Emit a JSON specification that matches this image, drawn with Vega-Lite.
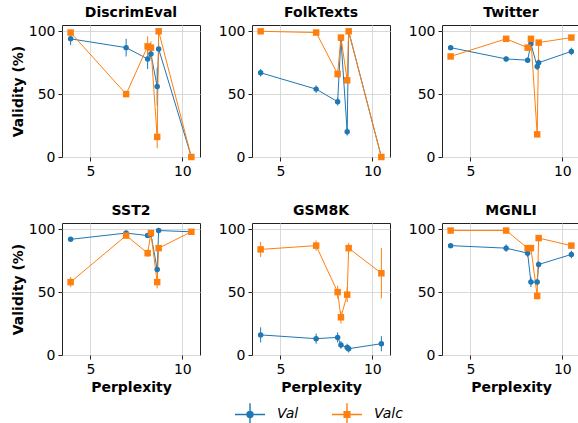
{
  "$schema": "https://vega.github.io/schema/vega-lite/v6.json",
  "background": "white",
  "padding": {"left": 10, "top": 5, "right": 0, "bottom": 0},
  "config": {
    "font": "DejaVu Sans",
    "view": {"stroke": "#222", "strokeWidth": 1},
    "axis": {"labelFontSize": 14, "titleFontSize": 14, "titleFontWeight": "bold", "labelColor": "black", "titleColor": "black", "tickColor": "#222", "tickSize": 4, "domain": false, "gridColor": "#d9d9d9", "gridWidth": 1, "labelPadding": 3},
    "axisY": {"titlePadding": 3},
    "title": {"fontSize": 14, "fontWeight": "bold", "color": "black", "offset": 4},
    "legend": {"orient": "none", "legendX": 172, "legendY": 373, "direction": "horizontal", "title": null, "labelFontSize": 14, "labelFontStyle": "italic", "labelColor": "black", "symbolSize": 900, "symbolStrokeWidth": 1.4, "columnPadding": 30, "labelOffset": 11, "padding": 0}
  },
  "datasets": {
    "d": [
      {"t": "DiscrimEval", "x": 3.92, "s": "Val", "v": 94, "e": 5},
      {"t": "DiscrimEval", "x": 6.94, "s": "Val", "v": 87, "e": 7},
      {"t": "DiscrimEval", "x": 8.11, "s": "Val", "v": 78, "e": 8},
      {"t": "DiscrimEval", "x": 8.29, "s": "Val", "v": 82, "e": 4},
      {"t": "DiscrimEval", "x": 8.63, "s": "Val", "v": 56, "e": 15},
      {"t": "DiscrimEval", "x": 8.71, "s": "Val", "v": 86, "e": 5},
      {"t": "DiscrimEval", "x": 10.49, "s": "Val", "v": 0, "e": 0},
      {"t": "DiscrimEval", "x": 3.92, "s": "Val_c", "v": 99, "e": 2},
      {"t": "DiscrimEval", "x": 6.94, "s": "Val_c", "v": 50, "e": 1},
      {"t": "DiscrimEval", "x": 8.11, "s": "Val_c", "v": 88, "e": 8},
      {"t": "DiscrimEval", "x": 8.29, "s": "Val_c", "v": 87, "e": 5},
      {"t": "DiscrimEval", "x": 8.63, "s": "Val_c", "v": 16, "e": 9},
      {"t": "DiscrimEval", "x": 8.71, "s": "Val_c", "v": 100, "e": 1},
      {"t": "DiscrimEval", "x": 10.49, "s": "Val_c", "v": 0, "e": 0},

      {"t": "FolkTexts", "x": 3.92, "s": "Val", "v": 67, "e": 3},
      {"t": "FolkTexts", "x": 6.94, "s": "Val", "v": 54, "e": 3},
      {"t": "FolkTexts", "x": 8.11, "s": "Val", "v": 44, "e": 3},
      {"t": "FolkTexts", "x": 8.29, "s": "Val", "v": 94, "e": 2},
      {"t": "FolkTexts", "x": 8.63, "s": "Val", "v": 20, "e": 3},
      {"t": "FolkTexts", "x": 8.71, "s": "Val", "v": 100, "e": 1},
      {"t": "FolkTexts", "x": 10.49, "s": "Val", "v": 0, "e": 0},
      {"t": "FolkTexts", "x": 3.92, "s": "Val_c", "v": 100, "e": 1},
      {"t": "FolkTexts", "x": 6.94, "s": "Val_c", "v": 99, "e": 1},
      {"t": "FolkTexts", "x": 8.11, "s": "Val_c", "v": 66, "e": 3},
      {"t": "FolkTexts", "x": 8.29, "s": "Val_c", "v": 95, "e": 2},
      {"t": "FolkTexts", "x": 8.63, "s": "Val_c", "v": 61, "e": 2},
      {"t": "FolkTexts", "x": 8.71, "s": "Val_c", "v": 100, "e": 1},
      {"t": "FolkTexts", "x": 10.49, "s": "Val_c", "v": 0, "e": 0},

      {"t": "Twitter", "x": 3.92, "s": "Val", "v": 87, "e": 2},
      {"t": "Twitter", "x": 6.94, "s": "Val", "v": 78, "e": 2},
      {"t": "Twitter", "x": 8.11, "s": "Val", "v": 77, "e": 2},
      {"t": "Twitter", "x": 8.29, "s": "Val", "v": 90, "e": 3},
      {"t": "Twitter", "x": 8.63, "s": "Val", "v": 72, "e": 3},
      {"t": "Twitter", "x": 8.71, "s": "Val", "v": 75, "e": 3},
      {"t": "Twitter", "x": 10.49, "s": "Val", "v": 84, "e": 3},
      {"t": "Twitter", "x": 3.92, "s": "Val_c", "v": 80, "e": 2},
      {"t": "Twitter", "x": 6.94, "s": "Val_c", "v": 94, "e": 2},
      {"t": "Twitter", "x": 8.11, "s": "Val_c", "v": 87, "e": 2},
      {"t": "Twitter", "x": 8.29, "s": "Val_c", "v": 94, "e": 2},
      {"t": "Twitter", "x": 8.63, "s": "Val_c", "v": 18, "e": 2},
      {"t": "Twitter", "x": 8.71, "s": "Val_c", "v": 91, "e": 2},
      {"t": "Twitter", "x": 10.49, "s": "Val_c", "v": 95, "e": 1},

      {"t": "SST2", "x": 3.92, "s": "Val", "v": 92, "e": 1},
      {"t": "SST2", "x": 6.94, "s": "Val", "v": 97, "e": 1},
      {"t": "SST2", "x": 8.11, "s": "Val", "v": 95, "e": 1},
      {"t": "SST2", "x": 8.29, "s": "Val", "v": 96, "e": 1},
      {"t": "SST2", "x": 8.63, "s": "Val", "v": 68, "e": 3},
      {"t": "SST2", "x": 8.71, "s": "Val", "v": 99, "e": 1},
      {"t": "SST2", "x": 10.49, "s": "Val", "v": 98, "e": 1},
      {"t": "SST2", "x": 3.92, "s": "Val_c", "v": 58, "e": 4},
      {"t": "SST2", "x": 6.94, "s": "Val_c", "v": 95, "e": 2},
      {"t": "SST2", "x": 8.11, "s": "Val_c", "v": 81, "e": 3},
      {"t": "SST2", "x": 8.29, "s": "Val_c", "v": 97, "e": 1},
      {"t": "SST2", "x": 8.63, "s": "Val_c", "v": 58, "e": 5},
      {"t": "SST2", "x": 8.71, "s": "Val_c", "v": 85, "e": 2},
      {"t": "SST2", "x": 10.49, "s": "Val_c", "v": 98, "e": 1},

      {"t": "GSM8K", "x": 3.92, "s": "Val", "v": 16, "e": 6},
      {"t": "GSM8K", "x": 6.94, "s": "Val", "v": 13, "e": 4},
      {"t": "GSM8K", "x": 8.11, "s": "Val", "v": 14, "e": 4},
      {"t": "GSM8K", "x": 8.29, "s": "Val", "v": 8, "e": 3},
      {"t": "GSM8K", "x": 8.63, "s": "Val", "v": 6, "e": 3},
      {"t": "GSM8K", "x": 8.71, "s": "Val", "v": 5, "e": 3},
      {"t": "GSM8K", "x": 10.49, "s": "Val", "v": 9, "e": 6},
      {"t": "GSM8K", "x": 3.92, "s": "Val_c", "v": 84, "e": 6},
      {"t": "GSM8K", "x": 6.94, "s": "Val_c", "v": 87, "e": 4},
      {"t": "GSM8K", "x": 8.11, "s": "Val_c", "v": 50, "e": 5},
      {"t": "GSM8K", "x": 8.29, "s": "Val_c", "v": 30, "e": 5},
      {"t": "GSM8K", "x": 8.63, "s": "Val_c", "v": 48, "e": 6},
      {"t": "GSM8K", "x": 8.71, "s": "Val_c", "v": 85, "e": 4},
      {"t": "GSM8K", "x": 10.49, "s": "Val_c", "v": 65, "e": 20},

      {"t": "MGNLI", "x": 3.92, "s": "Val", "v": 87, "e": 2},
      {"t": "MGNLI", "x": 6.94, "s": "Val", "v": 85, "e": 3},
      {"t": "MGNLI", "x": 8.11, "s": "Val", "v": 81, "e": 3},
      {"t": "MGNLI", "x": 8.29, "s": "Val", "v": 58, "e": 4},
      {"t": "MGNLI", "x": 8.63, "s": "Val", "v": 58, "e": 3},
      {"t": "MGNLI", "x": 8.71, "s": "Val", "v": 72, "e": 3},
      {"t": "MGNLI", "x": 10.49, "s": "Val", "v": 80, "e": 3},
      {"t": "MGNLI", "x": 3.92, "s": "Val_c", "v": 99, "e": 1},
      {"t": "MGNLI", "x": 6.94, "s": "Val_c", "v": 99, "e": 1},
      {"t": "MGNLI", "x": 8.11, "s": "Val_c", "v": 85, "e": 2},
      {"t": "MGNLI", "x": 8.29, "s": "Val_c", "v": 85, "e": 2},
      {"t": "MGNLI", "x": 8.63, "s": "Val_c", "v": 47, "e": 3},
      {"t": "MGNLI", "x": 8.71, "s": "Val_c", "v": 93, "e": 2},
      {"t": "MGNLI", "x": 10.49, "s": "Val_c", "v": 87, "e": 2}
    ]
  },
  "data": {"name": "d"},
  "columns": 3,
  "bounds": "flush",
  "spacing": {"column": 52, "row": 66},
  "concat": [
    {"title": "DiscrimEval", "width": 138, "height": 132, "transform": [{"filter": "datum.t === 'DiscrimEval'"}],
     "layer": [
      {"mark": {"type": "errorbar", "thickness": 1}, "encoding": {"x": {"field": "x", "type": "quantitative", "scale": {"domain": [3.45, 10.96], "nice": false, "zero": false}, "axis": {"values": [5, 10], "title": null}}, "y": {"field": "v", "type": "quantitative", "scale": {"domain": [0, 105], "nice": false}, "axis": {"values": [0, 50, 100], "title": "Validity (%)"}}, "yError": {"field": "e"},
        "color": {"field": "s", "type": "nominal", "scale": {"domain": ["Val", "Val_c"], "range": ["#1f77b4", "#ff7f0e"]},
          "legend": {"labelExpr": "datum.value === 'Val' ? 'Val' : 'Valᴄ'",
            "symbolType": "M-1,0H1M0,-0.75V0.75M-0.2,-0.2H0.2V0.2H-0.2Z",
            "encode": {"symbols": {"update": {
              "shape": {"signal": "datum.value === 'Val' ? 'M-1,0H1M0,-0.75V0.75M0.2,0A0.2,0.2,0,1,1,-0.2,0A0.2,0.2,0,1,1,0.2,0Z' : 'M-1,0H1M0,-0.75V0.75M-0.19,-0.19H0.19V0.19H-0.19Z'"},
              "fill": {"scale": "color", "field": "value"},
              "stroke": {"scale": "color", "field": "value"},
              "strokeWidth": {"value": 1.4},
              "opacity": {"value": 1}}}}}}}},
      {"mark": {"type": "line", "strokeWidth": 1}, "encoding": {"x": {"field": "x", "type": "quantitative"}, "y": {"field": "v", "type": "quantitative"}, "color": {"field": "s", "type": "nominal"}}},
      {"transform": [{"filter": "datum.s === 'Val'"}], "mark": {"type": "point", "shape": "circle", "size": 30, "filled": true, "opacity": 1}, "encoding": {"x": {"field": "x", "type": "quantitative"}, "y": {"field": "v", "type": "quantitative"}, "color": {"field": "s", "type": "nominal"}}},
      {"transform": [{"filter": "datum.s === 'Val_c'"}], "mark": {"type": "point", "shape": "square", "size": 42, "filled": true, "opacity": 1}, "encoding": {"x": {"field": "x", "type": "quantitative"}, "y": {"field": "v", "type": "quantitative"}, "color": {"field": "s", "type": "nominal"}}}
     ]},
    {"title": "FolkTexts", "width": 138, "height": 132, "transform": [{"filter": "datum.t === 'FolkTexts'"}],
     "layer": [
      {"mark": {"type": "errorbar", "thickness": 1}, "encoding": {"x": {"field": "x", "type": "quantitative", "scale": {"domain": [3.45, 10.96], "nice": false, "zero": false}, "axis": {"values": [5, 10], "title": null}}, "y": {"field": "v", "type": "quantitative", "scale": {"domain": [0, 105], "nice": false}, "axis": {"values": [0, 50, 100], "title": null}}, "yError": {"field": "e"}, "color": {"field": "s", "type": "nominal"}}},
      {"mark": {"type": "line", "strokeWidth": 1}, "encoding": {"x": {"field": "x", "type": "quantitative"}, "y": {"field": "v", "type": "quantitative"}, "color": {"field": "s", "type": "nominal"}}},
      {"transform": [{"filter": "datum.s === 'Val'"}], "mark": {"type": "point", "shape": "circle", "size": 30, "filled": true, "opacity": 1}, "encoding": {"x": {"field": "x", "type": "quantitative"}, "y": {"field": "v", "type": "quantitative"}, "color": {"field": "s", "type": "nominal"}}},
      {"transform": [{"filter": "datum.s === 'Val_c'"}], "mark": {"type": "point", "shape": "square", "size": 42, "filled": true, "opacity": 1}, "encoding": {"x": {"field": "x", "type": "quantitative"}, "y": {"field": "v", "type": "quantitative"}, "color": {"field": "s", "type": "nominal"}}}
     ]},
    {"title": "Twitter", "width": 138, "height": 132, "transform": [{"filter": "datum.t === 'Twitter'"}],
     "layer": [
      {"mark": {"type": "errorbar", "thickness": 1}, "encoding": {"x": {"field": "x", "type": "quantitative", "scale": {"domain": [3.45, 10.96], "nice": false, "zero": false}, "axis": {"values": [5, 10], "title": null}}, "y": {"field": "v", "type": "quantitative", "scale": {"domain": [0, 105], "nice": false}, "axis": {"values": [0, 50, 100], "title": null}}, "yError": {"field": "e"}, "color": {"field": "s", "type": "nominal"}}},
      {"mark": {"type": "line", "strokeWidth": 1}, "encoding": {"x": {"field": "x", "type": "quantitative"}, "y": {"field": "v", "type": "quantitative"}, "color": {"field": "s", "type": "nominal"}}},
      {"transform": [{"filter": "datum.s === 'Val'"}], "mark": {"type": "point", "shape": "circle", "size": 30, "filled": true, "opacity": 1}, "encoding": {"x": {"field": "x", "type": "quantitative"}, "y": {"field": "v", "type": "quantitative"}, "color": {"field": "s", "type": "nominal"}}},
      {"transform": [{"filter": "datum.s === 'Val_c'"}], "mark": {"type": "point", "shape": "square", "size": 42, "filled": true, "opacity": 1}, "encoding": {"x": {"field": "x", "type": "quantitative"}, "y": {"field": "v", "type": "quantitative"}, "color": {"field": "s", "type": "nominal"}}}
     ]},
    {"title": "SST2", "width": 138, "height": 132, "transform": [{"filter": "datum.t === 'SST2'"}],
     "layer": [
      {"mark": {"type": "errorbar", "thickness": 1}, "encoding": {"x": {"field": "x", "type": "quantitative", "scale": {"domain": [3.45, 10.96], "nice": false, "zero": false}, "axis": {"values": [5, 10], "title": "Perplexity"}}, "y": {"field": "v", "type": "quantitative", "scale": {"domain": [0, 105], "nice": false}, "axis": {"values": [0, 50, 100], "title": "Validity (%)"}}, "yError": {"field": "e"}, "color": {"field": "s", "type": "nominal"}}},
      {"mark": {"type": "line", "strokeWidth": 1}, "encoding": {"x": {"field": "x", "type": "quantitative"}, "y": {"field": "v", "type": "quantitative"}, "color": {"field": "s", "type": "nominal"}}},
      {"transform": [{"filter": "datum.s === 'Val'"}], "mark": {"type": "point", "shape": "circle", "size": 30, "filled": true, "opacity": 1}, "encoding": {"x": {"field": "x", "type": "quantitative"}, "y": {"field": "v", "type": "quantitative"}, "color": {"field": "s", "type": "nominal"}}},
      {"transform": [{"filter": "datum.s === 'Val_c'"}], "mark": {"type": "point", "shape": "square", "size": 42, "filled": true, "opacity": 1}, "encoding": {"x": {"field": "x", "type": "quantitative"}, "y": {"field": "v", "type": "quantitative"}, "color": {"field": "s", "type": "nominal"}}}
     ]},
    {"title": "GSM8K", "width": 138, "height": 132, "transform": [{"filter": "datum.t === 'GSM8K'"}],
     "layer": [
      {"mark": {"type": "errorbar", "thickness": 1}, "encoding": {"x": {"field": "x", "type": "quantitative", "scale": {"domain": [3.45, 10.96], "nice": false, "zero": false}, "axis": {"values": [5, 10], "title": "Perplexity"}}, "y": {"field": "v", "type": "quantitative", "scale": {"domain": [0, 105], "nice": false}, "axis": {"values": [0, 50, 100], "title": null}}, "yError": {"field": "e"}, "color": {"field": "s", "type": "nominal"}}},
      {"mark": {"type": "line", "strokeWidth": 1}, "encoding": {"x": {"field": "x", "type": "quantitative"}, "y": {"field": "v", "type": "quantitative"}, "color": {"field": "s", "type": "nominal"}}},
      {"transform": [{"filter": "datum.s === 'Val'"}], "mark": {"type": "point", "shape": "circle", "size": 30, "filled": true, "opacity": 1}, "encoding": {"x": {"field": "x", "type": "quantitative"}, "y": {"field": "v", "type": "quantitative"}, "color": {"field": "s", "type": "nominal"}}},
      {"transform": [{"filter": "datum.s === 'Val_c'"}], "mark": {"type": "point", "shape": "square", "size": 42, "filled": true, "opacity": 1}, "encoding": {"x": {"field": "x", "type": "quantitative"}, "y": {"field": "v", "type": "quantitative"}, "color": {"field": "s", "type": "nominal"}}}
     ]},
    {"title": "MGNLI", "width": 138, "height": 132, "transform": [{"filter": "datum.t === 'MGNLI'"}],
     "layer": [
      {"mark": {"type": "errorbar", "thickness": 1}, "encoding": {"x": {"field": "x", "type": "quantitative", "scale": {"domain": [3.45, 10.96], "nice": false, "zero": false}, "axis": {"values": [5, 10], "title": "Perplexity"}}, "y": {"field": "v", "type": "quantitative", "scale": {"domain": [0, 105], "nice": false}, "axis": {"values": [0, 50, 100], "title": null}}, "yError": {"field": "e"}, "color": {"field": "s", "type": "nominal"}}},
      {"mark": {"type": "line", "strokeWidth": 1}, "encoding": {"x": {"field": "x", "type": "quantitative"}, "y": {"field": "v", "type": "quantitative"}, "color": {"field": "s", "type": "nominal"}}},
      {"transform": [{"filter": "datum.s === 'Val'"}], "mark": {"type": "point", "shape": "circle", "size": 30, "filled": true, "opacity": 1}, "encoding": {"x": {"field": "x", "type": "quantitative"}, "y": {"field": "v", "type": "quantitative"}, "color": {"field": "s", "type": "nominal"}}},
      {"transform": [{"filter": "datum.s === 'Val_c'"}], "mark": {"type": "point", "shape": "square", "size": 42, "filled": true, "opacity": 1}, "encoding": {"x": {"field": "x", "type": "quantitative"}, "y": {"field": "v", "type": "quantitative"}, "color": {"field": "s", "type": "nominal"}}}
     ]}
  ],
  "resolve": {"scale": {"color": "shared"}}
}
